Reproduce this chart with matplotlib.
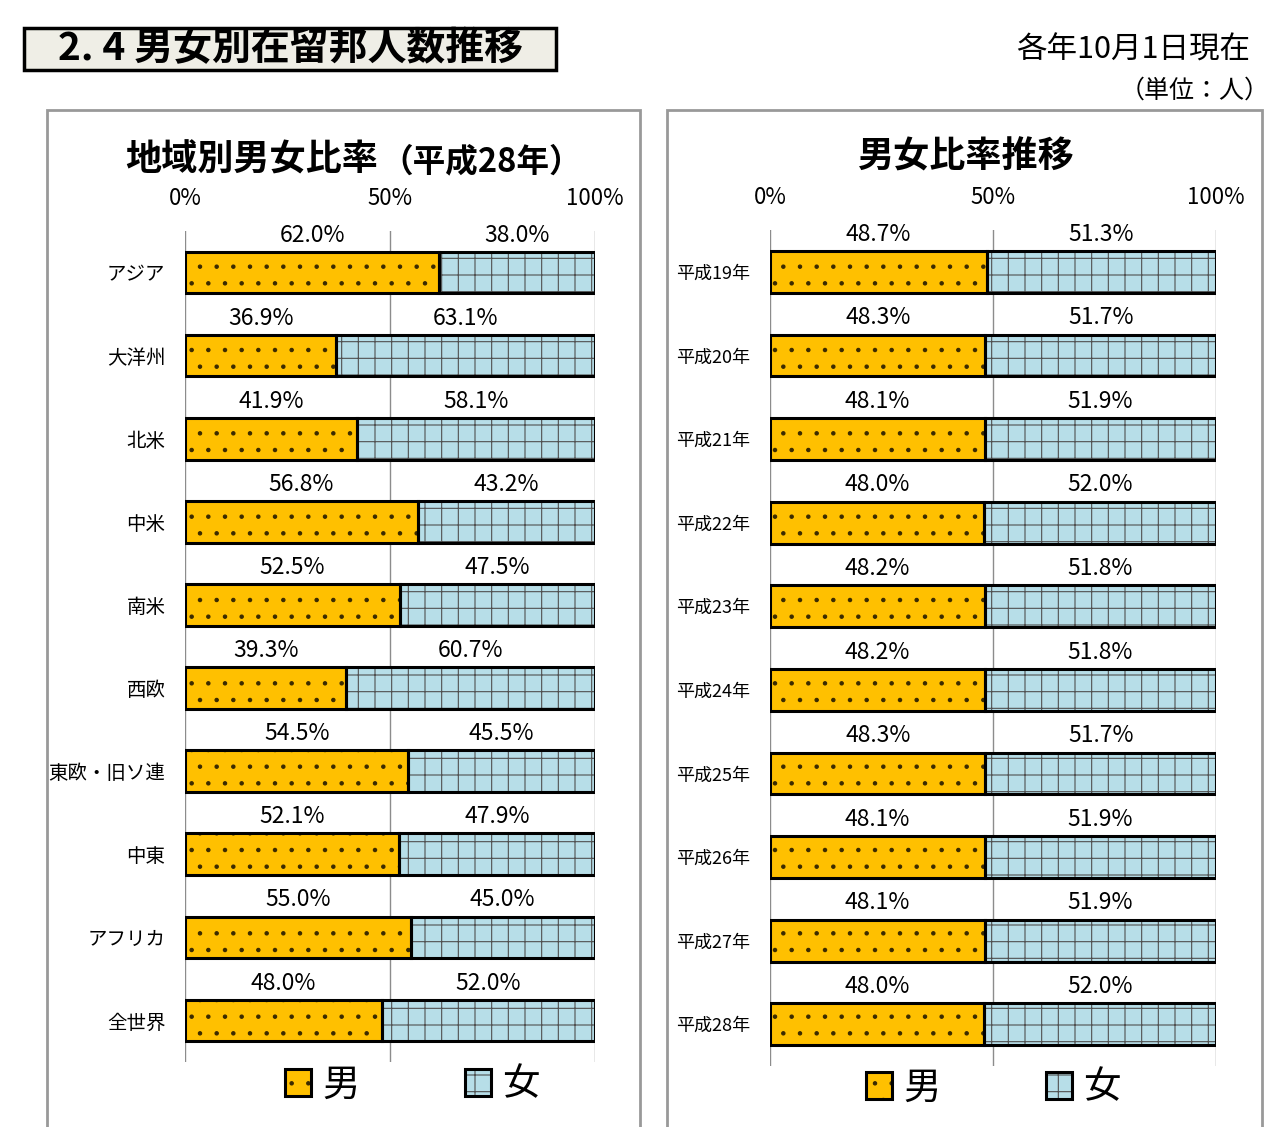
import matplotlib
matplotlib.use('Agg')
import matplotlib.pyplot as plt
from matplotlib.patches import Rectangle

plt.rcParams['font.family'] = ['Noto Sans CJK JP', 'DejaVu Sans']
plt.rcParams['hatch.linewidth'] = 0.8

regions = ['アジア', '大洋州', '北米', '中米', '南米', '西欧', '東欧・旧ソ連', '中東', 'アフリカ', '全世界']
male_region = [62.0, 36.9, 41.9, 56.8, 52.5, 39.3, 54.5, 52.1, 55.0, 48.0]
female_region = [38.0, 63.1, 58.1, 43.2, 47.5, 60.7, 45.5, 47.9, 45.0, 52.0]

years = ['平成19年', '平成20年', '平成21年', '平成22年', '平成23年',
         '平成24年', '平成25年', '平成26年', '平成27年', '平成28年']
male_year = [48.7, 48.3, 48.1, 48.0, 48.2, 48.2, 48.3, 48.1, 48.1, 48.0]
female_year = [51.3, 51.7, 51.9, 52.0, 51.8, 51.8, 51.7, 51.9, 51.9, 52.0]

male_color = '#FFC000'
female_color = '#B7DEE8'

W, H = 1280, 1127
fig = plt.figure(figsize=(12.8, 11.27), dpi=100)


def fx(px):
    return px / W


def fy(py):
    return 1 - py / H


def draw_panel(ax, cats, male, female, cat_size):
    idx = range(len(cats))
    # hatched fill first (thin hatch colour), then a plain black outline on top
    hm = ax.barh(idx, male, height=0.5, color=male_color, edgecolor='#3a2a00',
                 linewidth=0, hatch='.')
    hf = ax.barh(idx, female, left=male, height=0.5, color=female_color,
                 edgecolor='#505050', linewidth=0, hatch='+')
    om = ax.barh(idx, male, height=0.5, fill=False, edgecolor='black', linewidth=2.2)
    of = ax.barh(idx, female, left=male, height=0.5, fill=False, edgecolor='black',
                 linewidth=2.2)
    for i, (m, f) in enumerate(zip(male, female)):
        ax.text(m / 2, i - 0.45, f'{m:.1f}%', ha='center', va='center', fontsize=16.5)
        ax.text(m + f / 2, i - 0.45, f'{f:.1f}%', ha='center', va='center', fontsize=16.5)
    ax.set_xlim(0, 100)
    ax.set_ylim(len(cats) - 0.5, -0.5)
    ax.set_xticks([0, 50, 100])
    ax.set_xticklabels(['0%', '50%', '100%'], fontsize=16)
    ax.xaxis.tick_top()
    ax.set_yticks(list(idx))
    ax.set_yticklabels(cats, fontsize=cat_size)
    ax.tick_params(axis='x', length=0, pad=15)
    ax.tick_params(axis='y', length=0, pad=14)
    ax.grid(axis='x', color='#8c8c8c', linewidth=1)
    ax.set_axisbelow(True)
    ax.patch.set_alpha(0)
    for s in ax.spines.values():
        s.set_visible(False)
    return (hm[0], om[0]), (hf[0], of[0])


# panel frames
for x0, x1 in [(47, 640), (667, 1262)]:
    fig.patches.append(Rectangle((fx(x0), fy(1140)), fx(x1) - fx(x0), fy(110) - fy(1140),
                                 transform=fig.transFigure, facecolor='white',
                                 edgecolor='#999999', linewidth=2, zorder=-1))

# header box
fig.patches.append(Rectangle((fx(24), fy(70)), fx(556) - fx(24), fy(28) - fy(70),
                             transform=fig.transFigure, facecolor='#EFEEE6',
                             edgecolor='black', linewidth=2.5, zorder=-1))
fig.text(fx(58), fy(49), '2. 4 男女別在留邦人数推移', fontsize=28, fontweight='bold',
         ha='left', va='center')
fig.text(fx(1250), fy(50), '各年10月1日現在', fontsize=22, ha='right', va='center')
fig.text(fx(1270), fy(91), '（単位：人）', fontsize=18, ha='right', va='center')

ax1 = fig.add_axes([fx(185), fy(1062), fx(595) - fx(185), fy(231) - fy(1062)])
h_male, h_female = draw_panel(ax1, regions, male_region, female_region, 14)

ax2 = fig.add_axes([fx(770), fy(1066), fx(1216) - fx(770), fy(230) - fy(1066)])
draw_panel(ax2, years, male_year, female_year, 13)

fig.text(fx(125), fy(160), '地域別男女比率', fontsize=26, fontweight='bold',
         ha='left', va='center')
fig.text(fx(380), fy(162), '（平成28年）', fontsize=23.5, fontweight='bold',
         ha='left', va='center')
fig.text(fx(965), fy(157), '男女比率推移', fontsize=26, fontweight='bold',
         ha='center', va='center')

for cx, cy in [(412, 1085), (993, 1088)]:
    fig.legend([h_male, h_female], ['男', '女'], loc='center',
               bbox_to_anchor=(fx(cx), fy(cy)),
               ncol=2, frameon=False, fontsize=27, handlelength=0.7, handleheight=0.7,
               handletextpad=0.3, columnspacing=2.8)

fig.savefig('out.png', dpi=100)
